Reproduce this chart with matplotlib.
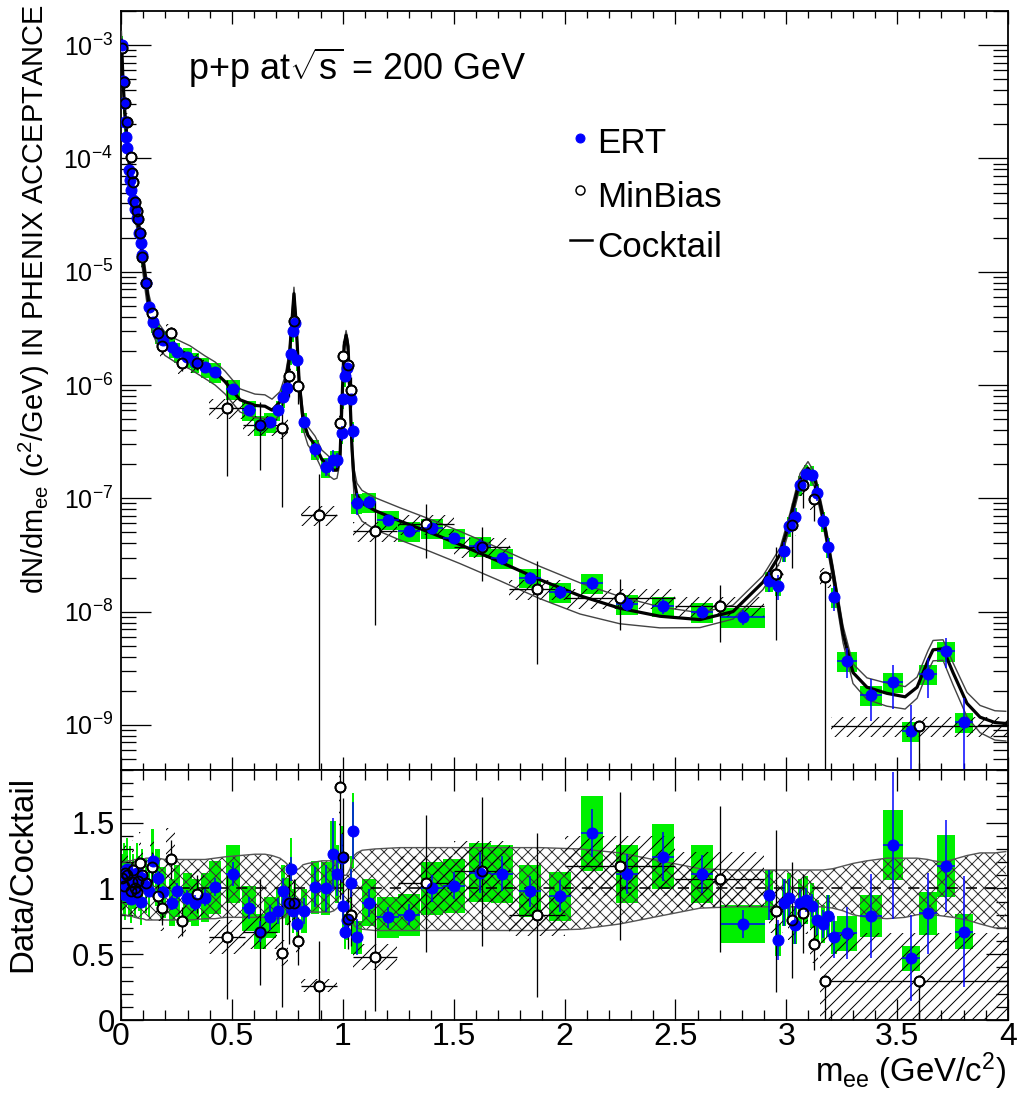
import numpy as np
import matplotlib
matplotlib.use("Agg")
import matplotlib.pyplot as plt
from matplotlib.patches import Rectangle
from matplotlib.ticker import MultipleLocator, LogLocator, NullFormatter

plt.rcParams['font.family'] = ['Liberation Sans', 'DejaVu Sans']
plt.rcParams['mathtext.fontset'] = 'custom'
plt.rcParams['mathtext.rm'] = 'Liberation Sans'
plt.rcParams['mathtext.it'] = 'Liberation Sans:italic'
plt.rcParams['mathtext.bf'] = 'Liberation Sans:bold'
plt.rcParams['hatch.linewidth'] = 1.0
plt.rcParams['hatch.color'] = 'black'

# ---- ERT (filled blue) ----
ert_x = [0.005, 0.010, 0.014, 0.018, 0.023, 0.027, 0.036, 0.041, 0.045, 0.054, 0.063, 0.072, 0.081, 0.090, 0.095,
         0.113, 0.126, 0.144, 0.165, 0.190, 0.230, 0.252, 0.298, 0.334, 0.379, 0.424, 0.505, 0.577, 0.627, 0.672,
         0.708, 0.730, 0.749, 0.767, 0.776, 0.785, 0.794, 0.825, 0.875, 0.924, 0.956, 0.974, 0.997, 1.001, 1.010,
         1.019, 1.037, 1.046, 1.064, 1.118, 1.204, 1.299, 1.402, 1.502, 1.619, 1.718, 1.844, 1.980, 2.124, 2.282,
         2.444, 2.620, 2.805, 2.922, 2.963, 2.990, 3.012, 3.040, 3.062, 3.089, 3.116, 3.139, 3.166, 3.188, 3.215,
         3.274, 3.382, 3.481, 3.563, 3.639, 3.720, 3.800]
ert_y = [1.0e-3, 4.8e-4, 3.1e-4, 2.1e-4, 1.55e-4, 1.23e-4, 7.9e-5, 6.5e-5, 5.3e-5, 4.3e-5, 3.6e-5, 2.95e-5, 2.2e-5,
         1.8e-5, 1.4e-5, 8.0e-6, 4.9e-6, 3.6e-6, 2.9e-6, 2.5e-6, 2.15e-6, 1.95e-6, 1.77e-6, 1.6e-6, 1.45e-6, 1.3e-6,
         9.3e-7, 6.0e-7, 4.4e-7, 4.7e-7, 6.0e-7, 7.9e-7, 9.5e-7, 1.87e-6, 3.0e-6, 3.5e-6, 1.66e-6, 4.7e-7, 2.7e-7,
         1.9e-7, 2.2e-7, 2.2e-7, 3.8e-7, 7.6e-7, 1.2e-6, 1.4e-6, 7.6e-7, 3.9e-7, 9.1e-8, 9.3e-8, 6.5e-8, 5.1e-8,
         5.5e-8, 4.5e-8, 3.8e-8, 2.95e-8, 2.0e-8, 1.5e-8, 1.78e-8, 1.17e-8, 1.12e-8, 1.0e-8, 8.9e-9, 1.87e-8,
         1.7e-8, 3.4e-8, 5.7e-8, 6.9e-8, 1.31e-7, 1.63e-7, 1.6e-7, 1.11e-7, 6.3e-8, 3.7e-8, 1.34e-8, 3.7e-9,
         1.82e-9, 2.4e-9, 8.9e-10, 2.8e-9, 4.5e-9, 1.07e-9]
ert_ratio = [1.05, 1.00, 1.12, 0.95, 1.08, 1.15, 1.00, 1.10, 0.92, 1.05, 0.97, 1.12, 1.04, 0.90, 1.08, 1.02, 0.98,
             1.21, 1.08, 0.97, 0.89, 0.98, 0.93, 0.89, 0.93, 1.01, 1.11, 0.85, 0.67, 0.78,
             0.83, 0.98, 0.90, 1.15, 0.83, 0.88, 0.73, 0.83, 1.01, 1.00, 1.26, 1.11,
             1.23, 0.87, 0.67, 0.76, 1.04, 1.44,
             0.63, 0.89, 0.78, 0.80, 1.00, 1.02, 1.12, 1.11, 0.98, 0.94, 1.42, 1.11, 1.24, 1.11, 0.73,
             0.95, 0.61, 0.89, 0.93, 0.72, 0.89, 0.91, 0.87, 0.76, 0.73, 0.79, 0.63, 0.66, 0.79, 1.33, 0.47,
             0.81, 1.17, 0.67]
ert_err = [0.03] * 17 + \
          [0.04, 0.05, 0.05, 0.06, 0.06, 0.06, 0.07, 0.07, 0.07, 0.08, 0.10, 0.12, 0.12,
           0.12, 0.10, 0.10, 0.08, 0.06, 0.06, 0.08, 0.12, 0.15, 0.18, 0.22, 0.15,
           0.15, 0.10, 0.08, 0.08, 0.10, 0.15,
           0.22, 0.12, 0.10, 0.10, 0.10, 0.10, 0.14, 0.12, 0.12, 0.13, 0.13, 0.14, 0.15, 0.13, 0.15,
           0.20, 0.25, 0.20, 0.15, 0.20, 0.12, 0.10, 0.10, 0.15, 0.15, 0.20, 0.25, 0.30, 0.40, 0.42, 0.70,
           0.38, 0.30, 0.63]
ert_dx = [0.003] * 17 + \
         [0.007, 0.010, 0.012, 0.015, 0.015, 0.020, 0.020, 0.020, 0.025, 0.030, 0.030, 0.025, 0.025,
          0.010, 0.008, 0.008, 0.006, 0.005, 0.005, 0.006, 0.015, 0.020, 0.020, 0.012, 0.010,
          0.004, 0.004, 0.004, 0.004, 0.004, 0.004,
          0.025, 0.030, 0.050, 0.050, 0.050, 0.050, 0.050, 0.050, 0.050, 0.050, 0.050, 0.050, 0.050, 0.050, 0.100,
          0.020, 0.015, 0.010, 0.010, 0.010, 0.010, 0.010, 0.010, 0.010, 0.010, 0.010, 0.012, 0.045, 0.050, 0.045,
          0.040, 0.040, 0.040, 0.040]
ERT_SYS = 0.2

# ---- MinBias (open circles) ----
mb_x = [0.005, 0.014, 0.018, 0.027, 0.045, 0.050, 0.054, 0.063, 0.072, 0.077, 0.086, 0.095, 0.113, 0.140, 0.167,
        0.185, 0.225, 0.275, 0.343, 0.478, 0.627, 0.726, 0.758, 0.780, 0.798, 0.893, 0.988, 1.001, 1.024, 1.037,
        1.145, 1.375, 1.628, 1.876, 2.250, 2.700, 2.954, 3.026, 3.076, 3.125, 3.175, 3.600]
mb_y = [9.4e-4, 4.7e-4, 3.1e-4, 2.1e-4, 1.03e-4, 7.4e-5, 6.2e-5, 4.1e-5, 3.4e-5, 2.9e-5, 2.2e-5, 1.35e-5, 8.0e-6,
        4.3e-6, 2.9e-6, 2.2e-6, 2.9e-6, 1.55e-6, 1.58e-6, 6.3e-7, 4.4e-7, 4.2e-7, 1.2e-6, 3.7e-6, 9.8e-7, 7.1e-8,
        4.6e-7, 1.8e-6, 1.5e-6, 9.1e-7, 5.1e-8, 5.9e-8, 3.7e-8, 1.58e-8, 1.32e-8, 1.12e-8, 2.14e-8, 5.8e-8,
        1.31e-7, 9.8e-8, 2.04e-8, 9.8e-10]
mb_ratio = [1.08, 1.02, 1.12, 1.10, 0.98, 1.05, 1.14, 1.00, 0.97, 1.06, 1.19, 1.10, 1.04, 1.16, 0.94, 0.85, 1.22,
            0.75, 0.96, 0.63, 0.67, 0.51, 0.89, 0.89, 0.60, 0.26, 1.77, 1.24, 0.77, 0.80, 0.48, 1.04, 1.13, 0.80,
            1.17, 1.07, 0.83, 0.76, 0.81, 0.58, 0.30, 0.30]
mb_err_lo = [0.03] * 13 + [0.10, 0.12, 0.15, 0.12, 0.15, 0.15, 0.75, 0.60, 0.80, 0.35, 0.20, 0.30, 1.30, 0.48,
                           0.36, 0.30, 0.30, 0.85, 0.50, 0.50, 0.78, 0.48, 0.52, 0.74, 0.58, 0.37, 0.35, 1.05, 1.05]
mb_err_hi = [0.03] * 13 + [0.10, 0.12, 0.15, 0.12, 0.15, 0.15, 0.75, 0.60, 0.80, 0.35, 0.20, 0.30, 1.30, 0.48,
                           0.36, 0.30, 0.30, 0.85, 0.50, 0.50, 0.78, 0.48, 0.52, 0.74, 0.58, 0.37, 0.35, 0.0, 0.0]
mb_dx = [0.003] * 13 + [0.010, 0.010, 0.010, 0.020, 0.020, 0.030, 0.080, 0.075, 0.025, 0.008, 0.008, 0.008, 0.080,
                        0.005, 0.005, 0.005, 0.005, 0.100, 0.125, 0.125, 0.125, 0.250, 0.200, 0.030, 0.020,
                        0.020, 0.020, 0.025, 0.400]
MB_SYS = 0.2
mb_ratio_sys = [0.22, 0.20, 0.22, 0.22, 0.20, 0.21, 0.23, 0.20, 0.19, 0.21, 0.24, 0.22, 0.21, 0.23, 0.19, 0.17,
                0.24, 0.15, 0.19, 0.13, 0.13, 0.10, 0.18, 0.18, 0.12, 0.05, 0.35, 0.25, 0.15, 0.16, 0.10, 0.21,
                0.23, 0.16, 0.23, 0.21, 0.17, 0.15, 0.16, 0.15, 0.36, 0.36]

# ---- Cocktail (central + relative systematic band) ----
ck_x = [0.002, 0.009, 0.018, 0.032, 0.045, 0.063, 0.086, 0.099, 0.113, 0.126, 0.144, 0.167, 0.198, 0.244, 0.311,
        0.379, 0.424, 0.469, 0.537, 0.604, 0.649, 0.681, 0.717, 0.740, 0.758, 0.771, 0.780, 0.789, 0.803, 0.821,
        0.843, 0.875, 0.906, 0.942, 0.960, 0.974, 0.988, 0.997, 1.006, 1.015, 1.024, 1.033, 1.042, 1.051, 1.064,
        1.087, 1.145, 1.258, 1.393, 1.529, 1.709, 1.890, 2.070, 2.250, 2.430, 2.611, 2.760, 2.895, 2.972, 3.017,
        3.062, 3.098, 3.130, 3.166, 3.211, 3.256, 3.301, 3.364, 3.454, 3.536, 3.590, 3.639, 3.662, 3.707, 3.752,
        3.815, 3.874, 3.941, 3.990]
ck_y = [1.1e-3, 4.9e-4, 2.4e-4, 1.18e-4, 6.4e-5, 3.9e-5, 2.1e-5, 1.26e-5, 7.9e-6, 5.1e-6, 3.7e-6, 2.9e-6, 2.4e-6,
        2.1e-6, 1.82e-6, 1.48e-6, 1.3e-6, 1.07e-6, 7.4e-7, 6.6e-7, 6.5e-7, 6.0e-7, 7.1e-7, 1.0e-6, 1.66e-6, 3.7e-6,
        6.4e-6, 3.7e-6, 1.1e-6, 4.9e-7, 3.6e-7, 2.95e-7, 2.2e-7, 1.9e-7, 1.77e-7, 1.77e-7, 2.4e-7, 7.4e-7, 2.2e-6,
        2.75e-6, 2.2e-6, 7.4e-7, 2.7e-7, 1.45e-7, 1.07e-7, 9.1e-8, 7.8e-8, 6.3e-8, 5.0e-8, 3.9e-8, 2.75e-8,
        1.91e-8, 1.38e-8, 1.07e-8, 9.1e-9, 8.5e-9, 1.0e-8, 1.82e-8, 3.2e-8, 6.5e-8, 1.45e-7, 1.85e-7, 1.45e-7,
        6.8e-8, 2.2e-8, 6.4e-9, 2.9e-9, 2.15e-9, 1.9e-9, 1.77e-9, 2.15e-9, 3.7e-9, 4.6e-9, 4.7e-9, 2.9e-9,
        1.55e-9, 1.17e-9, 1.05e-9, 1.03e-9]
ck_hi = [1.20, 1.20, 1.20, 1.21, 1.21, 1.22, 1.22, 1.22, 1.23, 1.23, 1.23, 1.23, 1.22, 1.22, 1.22, 1.22, 1.23, 1.24,
         1.25, 1.26, 1.26, 1.25, 1.23, 1.20, 1.17, 1.15, 1.14, 1.14, 1.15, 1.18, 1.19, 1.20, 1.21, 1.21, 1.20, 1.16,
         1.12, 1.11, 1.10, 1.10, 1.12, 1.15, 1.20, 1.25, 1.27, 1.29, 1.30, 1.31, 1.31, 1.31, 1.31, 1.31, 1.30, 1.27,
         1.21, 1.15, 1.14, 1.14, 1.14, 1.14, 1.14, 1.14, 1.14, 1.14, 1.15, 1.17, 1.19, 1.21, 1.23, 1.23, 1.23, 1.22,
         1.21, 1.20, 1.22, 1.25, 1.27, 1.27, 1.28]
ck_lo = [0.80, 0.80, 0.80, 0.79, 0.79, 0.78, 0.77, 0.77, 0.76, 0.76, 0.76, 0.76, 0.76, 0.76, 0.76, 0.77, 0.77, 0.78,
         0.78, 0.78, 0.78, 0.77, 0.77, 0.78, 0.82, 0.85, 0.86, 0.86, 0.85, 0.83, 0.82, 0.82, 0.82, 0.82, 0.83, 0.85,
         0.87, 0.87, 0.88, 0.88, 0.87, 0.82, 0.76, 0.72, 0.70, 0.69, 0.68, 0.68, 0.68, 0.68, 0.68, 0.68, 0.69, 0.73,
         0.79, 0.85, 0.86, 0.86, 0.86, 0.86, 0.86, 0.86, 0.86, 0.86, 0.85, 0.83, 0.80, 0.78, 0.77, 0.78, 0.80, 0.81,
         0.80, 0.79, 0.78, 0.76, 0.73, 0.70, 0.70]

xticks = [0, 0.5, 1, 1.5, 2, 2.5, 3, 3.5, 4]
xticklabels = ['0', '0.5', '1', '1.5', '2', '2.5', '3', '3.5', '4']
ratio_ticks = [0, 0.5, 1, 1.5]
ratio_ticklabels = ['0', '0.5', '1', '1.5']

GREEN = '#00f000'
BLUE = '#0000ff'
W, H = 1020, 1095
YMIN = 4.0e-10

ert_x, ert_y, ert_ratio = map(np.array, (ert_x, ert_y, ert_ratio))
ert_err, ert_dx = np.array(ert_err), np.array(ert_dx)
mb_x, mb_y, mb_ratio = map(np.array, (mb_x, mb_y, mb_ratio))
mb_err_lo, mb_err_hi, mb_dx = np.array(mb_err_lo), np.array(mb_err_hi), np.array(mb_dx)
mb_ratio_sys = np.array(mb_ratio_sys)
ck_x, ck_y, ck_hi, ck_lo = map(np.array, (ck_x, ck_y, ck_hi, ck_lo))


def boxes(ax, x, dx, lo, hi, **kw):
    for xi, dxi, l, h in zip(x, dx, lo, hi):
        ax.add_patch(Rectangle((xi - dxi, l), 2 * dxi, h - l, **kw))


def style_axis(ax, xmaj, xmin, ymaj, ymin):
    ax.tick_params(which='both', direction='in', top=True, right=True, width=1.3, colors='black')
    ax.tick_params(axis='x', which='major', length=xmaj)
    ax.tick_params(axis='x', which='minor', length=xmin)
    ax.tick_params(axis='y', which='major', length=ymaj)
    ax.tick_params(axis='y', which='minor', length=ymin)
    for s in ax.spines.values():
        s.set_linewidth(1.8)
    ax.xaxis.set_major_locator(MultipleLocator(0.5))
    ax.xaxis.set_minor_locator(MultipleLocator(0.1))


fig = plt.figure(figsize=(W / 72, H / 72), dpi=72)
ax1 = fig.add_axes([121 / W, 1 - 770 / H, 887 / W, 759 / H])
ax2 = fig.add_axes([121 / W, 1 - 1020 / H, 887 / W, 250 / H])

# ================= top panel =================
ax1.set_yscale('log')
boxes(ax1, ert_x, ert_dx, ert_y * (1 - ERT_SYS), ert_y * (1 + ERT_SYS),
      facecolor=GREEN, edgecolor='none', lw=0, zorder=1)
boxes(ax1, mb_x, mb_dx, mb_y * (1 - MB_SYS), mb_y * (1 + MB_SYS),
      fill=False, hatch='//', edgecolor='black', lw=0, zorder=2)

ax1.plot(ck_x, ck_y * ck_hi, color='#444444', lw=1.4, zorder=3)
ax1.plot(ck_x, ck_y * ck_lo, color='#444444', lw=1.4, zorder=3)
ax1.plot(ck_x, ck_y, color='black', lw=3.2, zorder=3.5)

mb_lo_end = np.maximum(mb_y * (1 - mb_err_lo), 1e-13)
ax1.errorbar(mb_x, mb_y, yerr=[mb_y - mb_lo_end, mb_y * mb_err_hi], xerr=mb_dx, fmt='none',
             ecolor='black', elinewidth=1.3, capsize=0, zorder=4)
ax1.plot(mb_x, mb_y, 'o', ms=10, mfc='white', mec='black', mew=1.8, zorder=4.5)

ert_lo_end = np.maximum(ert_y * (1 - ert_err), 1e-13)
ax1.errorbar(ert_x, ert_y, yerr=[ert_y - ert_lo_end, ert_y * ert_err], xerr=ert_dx, fmt='o', ms=11,
             mfc=BLUE, mec=BLUE, ecolor=BLUE, elinewidth=1.5, capsize=0, zorder=5)
ax1.plot(mb_x, mb_y, 'o', ms=10, mfc='none', mec='black', mew=1.8, zorder=6)

ax1.set_xlim(0, 4)
ax1.set_ylim(YMIN, 2.0e-3)
style_axis(ax1, 13, 7, 30, 15)
ax1.yaxis.set_major_locator(LogLocator(base=10, numticks=20))
ax1.yaxis.set_minor_locator(LogLocator(base=10, subs=np.arange(2, 10), numticks=20))
ax1.yaxis.set_minor_formatter(NullFormatter())
ax1.tick_params(axis='x', labelbottom=False)
ax1.tick_params(axis='y', labelsize=25, pad=8)

ax1.text(0.0755, 0.9091, r'p+p at$\sqrt{\rm s}$ = 200 GeV', transform=ax1.transAxes,
         fontsize=36, ha='left', va='baseline')

# legend
ax1.plot([0.5175], [0.8327], 'o', ms=9, color=BLUE, transform=ax1.transAxes, clip_on=False)
ax1.plot([0.5175], [0.7642], 'o', ms=9, mfc='white', mec='black', mew=1.5, transform=ax1.transAxes, clip_on=False)
ax1.plot([0.5062, 0.5310], [0.6983, 0.6983], color='black', lw=2.5, transform=ax1.transAxes, clip_on=False)
for yy, lab in [(0.8129, 'ERT'), (0.7418, 'MinBias'), (0.6759, 'Cocktail')]:
    ax1.text(0.5366, yy, lab, transform=ax1.transAxes, fontsize=35, ha='left', va='baseline')

fig.text(34 / W, 1 - 4 / H, r'dN/dm$_{\rm ee}$ (c$^{2}$/GeV) IN PHENIX ACCEPTANCE', rotation=90,
         fontsize=29, ha='center', va='top')

# ================= bottom panel =================
boxes(ax2, ert_x, ert_dx, ert_ratio * (1 - ERT_SYS), ert_ratio * (1 + ERT_SYS),
      facecolor=GREEN, edgecolor='none', lw=0, zorder=1)
ax2.fill_between(ck_x, ck_lo, ck_hi, facecolor='none', edgecolor='#333333', hatch='xx', lw=0, zorder=2)
ax2.plot(ck_x, ck_hi, color='#555555', lw=1.4, zorder=2.2)
ax2.plot(ck_x, ck_lo, color='#555555', lw=1.4, zorder=2.2)
boxes(ax2, mb_x, mb_dx, mb_ratio - mb_ratio_sys, mb_ratio + mb_ratio_sys,
      fill=False, hatch='//', edgecolor='black', lw=0, zorder=2.4)
ax2.axhline(1.0, color='black', lw=1.6, ls=(0, (7, 5)), zorder=3)

ax2.errorbar(mb_x, mb_ratio, yerr=[mb_ratio * mb_err_lo, mb_ratio * mb_err_hi], xerr=mb_dx, fmt='none',
             ecolor='black', elinewidth=1.3, capsize=0, zorder=4)
ax2.plot(mb_x, mb_ratio, 'o', ms=10, mfc='white', mec='black', mew=1.8, zorder=4.5)
ax2.errorbar(ert_x, ert_ratio, yerr=ert_ratio * ert_err, xerr=ert_dx, fmt='o', ms=11,
             mfc=BLUE, mec=BLUE, ecolor=BLUE, elinewidth=1.5, capsize=0, zorder=5)
ax2.plot(mb_x, mb_ratio, 'o', ms=10, mfc='none', mec='black', mew=1.8, zorder=6)

ax2.set_xlim(0, 4)
ax2.set_ylim(0, 1.9)
style_axis(ax2, 21, 10, 22, 12)
ax2.set_xticks(xticks)
ax2.set_xticklabels(xticklabels)
ax2.set_yticks(ratio_ticks)
ax2.set_yticklabels(ratio_ticklabels)
ax2.yaxis.set_minor_locator(MultipleLocator(0.1))
ax2.tick_params(axis='x', labelsize=32, pad=2)
ax2.tick_params(axis='y', labelsize=31, pad=6)

fig.text(23 / W, 1 - 776 / H, 'Data/Cocktail', rotation=90, fontsize=33, ha='center', va='top')
fig.text(1006 / W, 1 - 1082 / H, r'm$_{\rm ee}$ (GeV/c$^{2}$)', fontsize=33, ha='right', va='baseline')

fig.savefig('out.png', dpi=72)
